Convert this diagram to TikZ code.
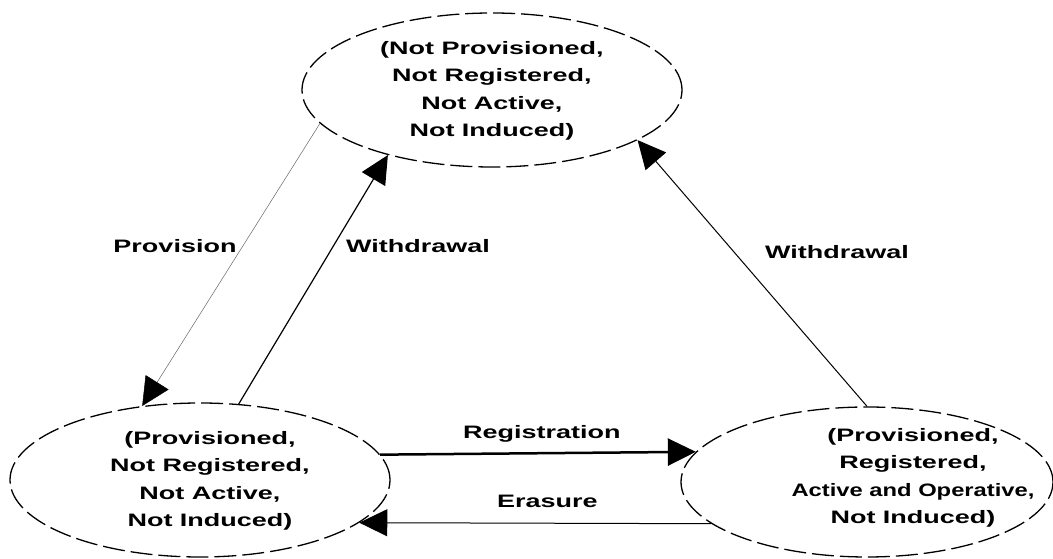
\documentclass[tikz,border=0pt]{standalone}
\usepackage{graphicx}
\usepackage{fontspec}
\newfontfamily\dfont{Liberation Sans}[FakeStretch=1.5]
\usetikzlibrary{shapes.geometric,arrows.meta,calc}
\begin{document}
\begin{tikzpicture}[x=1pt,y=1pt,
  state/.style={draw, ellipse, dashed, dash pattern=on 22pt off 6pt, line width=1.3pt, inner sep=0pt},
  statetext/.style={align=center, font=\dfont\bfseries\fontsize{18}{27.5}\selectfont, inner sep=0pt},
  lab/.style={font=\dfont\bfseries\fontsize{18}{22}\selectfont, inner sep=0pt},
  tip/.style={-{Triangle[length=28pt,width=27pt,color=black]}}
]
\useasboundingbox (0,0) rectangle (1053,559);
\node[state, minimum width=380pt, minimum height=154pt] (A) at (492,469) {};
\node[state, minimum width=380pt, minimum height=154pt] (B) at (200,79) {};
\node[state, minimum width=372pt, minimum height=150pt] (C) at (867,77) {};
\node[statetext] (At) at (492,468) {(Not Provisioned,\\Not Registered,\\Not Active,\\Not Induced)};
\node[statetext] (Bt) at (210,78) {(Provisioned,\\Not Registered,\\Not Active,\\Not Induced)};
\node[statetext] (Ct) at (913,81) {(Provisioned,\\Registered,\\\scalebox{0.88}[1]{Active and Operative,}\\Not Induced)};
% connectors
\draw[tip, line width=0.5pt, draw=black!60] (A.191) -- (B.128);
\draw[tip, line width=1.2pt] (B.63) -- (A.212);
\draw[tip, line width=1pt] (C.90) -- (A.-19);
\draw[tip, line width=2.5pt] (B.8.6) -- (C.170.4);
\draw[tip, line width=1pt] (C.195.25) -- (B.-15.75);
% labels
\node[lab] (lp) at (175,313) {Provision};
\node[lab] (lw1) at (418,313) {Withdrawal};
\node[lab] (lw2) at (837,307) {Withdrawal};
\node[lab, anchor=west] (lr) at (463,125) {Registration};
\node[lab, anchor=west] (le) at (497,58) {Erasure};
\end{tikzpicture}
\end{document}
